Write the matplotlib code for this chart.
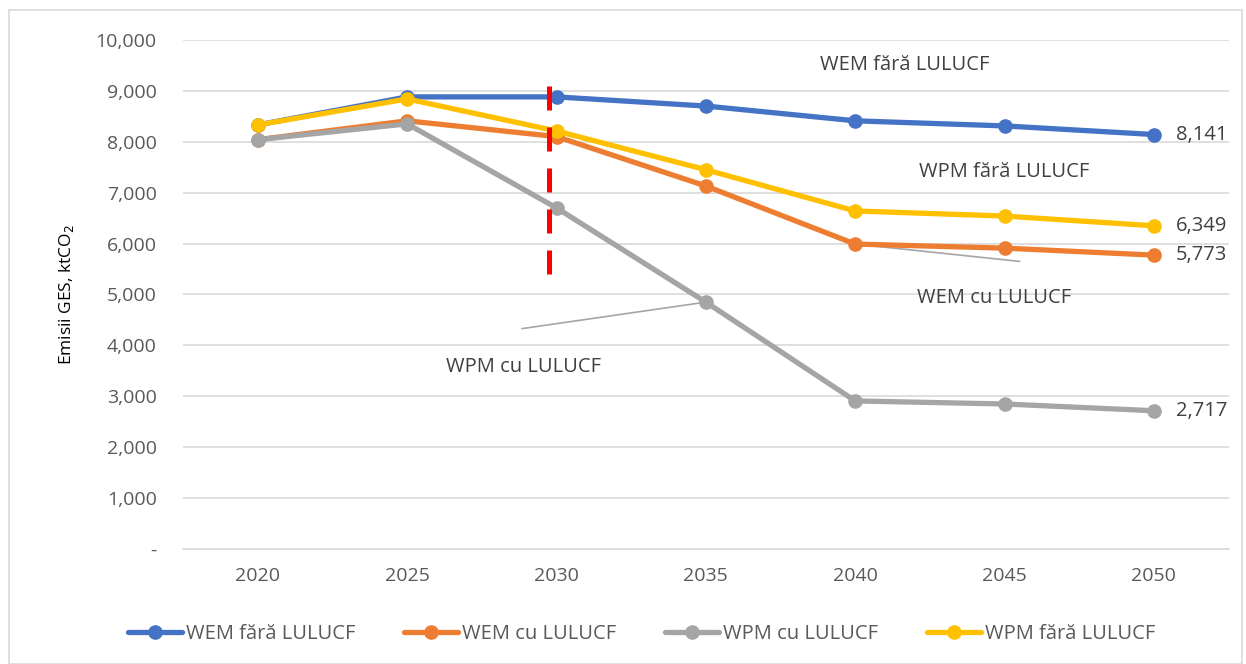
import matplotlib.pyplot as plt
from matplotlib.patches import Rectangle
from matplotlib.ticker import FuncFormatter

# ----------------------------------------------------------------------------
# Data (ktCO2)
# ----------------------------------------------------------------------------
years = ["2020", "2025", "2030", "2035", "2040", "2045", "2050"]
wem_fara = [8330, 8880, 8880, 8700, 8410, 8310, 8141]
wem_cu = [8040, 8410, 8100, 7130, 5990, 5910, 5773]
wpm_cu = [8040, 8350, 6700, 4850, 2910, 2850, 2717]
wpm_fara = [8330, 8840, 8210, 7450, 6640, 6540, 6349]

series_names = ["WEM fără LULUCF", "WEM cu LULUCF", "WPM cu LULUCF", "WPM fără LULUCF"]
series_values = [wem_fara, wem_cu, wpm_cu, wpm_fara]
end_labels = {"WEM fără LULUCF": "8,141", "WPM fără LULUCF": "6,349",
              "WEM cu LULUCF": "5,773", "WPM cu LULUCF": "2,717"}

# policy marker (dashed red line just before 2030)
policy_x = 1.95
policy_range = (5400, 9180)

# ----------------------------------------------------------------------------
# Style
# ----------------------------------------------------------------------------
COLORS = ["#4472C4", "#ED7D31", "#A5A5A5", "#FFC000"]
COLOR_TEXT = "#595959"
COLOR_GRID = "#D9D9D9"

plt.rcParams.update({
    "font.family": ["Open Sans", "DejaVu Sans"],
    "font.size": 12,
    "text.color": COLOR_TEXT,
    "xtick.color": COLOR_TEXT,
    "ytick.color": COLOR_TEXT,
})

fig = plt.figure(figsize=(12.46, 6.64), dpi=100)
ax = fig.add_axes([0.147, 0.173, 0.839, 0.767])

x = list(range(len(years)))
lines = []
for name, vals, col in zip(series_names, series_values, COLORS):
    ln, = ax.plot(x, vals, color=col, linewidth=3.8, marker="o",
                  markersize=9.5, label=name, zorder=3, solid_capstyle="round")
    lines.append(ln)

ax.plot([policy_x, policy_x], policy_range, color="#FF0000", linewidth=3.6,
        linestyle=(0, (4.8, 3.4)), zorder=5)

# end-of-line value labels
for name, vals in zip(series_names, series_values):
    ax.annotate(end_labels[name], (x[-1], vals[-1]), xytext=(16, 0),
                textcoords="offset points", va="center", ha="left",
                fontsize=14.5, color="#404040", annotation_clip=False)

# series labels inside the plot
lab_kw = dict(ha="center", va="center", fontsize=14.5, color="#404040")
ax.text(4.33, 9500, "WEM fără LULUCF", **lab_kw)
ax.text(5.0, 7400, "WPM fără LULUCF", **lab_kw)
ax.text(4.93, 4930, "WEM cu LULUCF", **lab_kw)
ax.text(1.78, 3580, "WPM cu LULUCF", **lab_kw)
# leader lines
ax.plot([4.0, 5.1], [wem_cu[4], 5650], color="#A5A5A5", linewidth=1.2, zorder=2)
ax.plot([1.77, 3.0], [4330, wpm_cu[3]], color="#A5A5A5", linewidth=1.2, zorder=2)

ax.set_xlim(-0.5, len(years) - 0.5)
ax.set_ylim(0, 10000)
ax.set_yticks(range(0, 10001, 1000))
ax.yaxis.set_major_formatter(FuncFormatter(lambda v, _: "-" if v == 0 else f"{int(v):,}"))
ax.set_xticks(x)
ax.set_xticklabels(years)
ax.tick_params(axis="both", length=0, labelsize=14)
ax.tick_params(axis="y", pad=19)
ax.tick_params(axis="x", pad=13)
ax.grid(axis="y", color=COLOR_GRID, linewidth=1.2)
ax.set_axisbelow(True)
for side in ["top", "right", "left"]:
    ax.spines[side].set_visible(False)
ax.spines["bottom"].set_color(COLOR_GRID)
ax.spines["bottom"].set_linewidth(1.2)

ax.set_ylabel("Emisii GES, ktCO$_2$", fontsize=12.5, labelpad=14)

fig.legend(handles=lines, labels=series_names, loc="center", ncol=4,
           bbox_to_anchor=(0.515, 0.045), frameon=False, fontsize=14.5,
           handlelength=2.7, columnspacing=2.4, handletextpad=0.2)

# figure border
fig.patches.append(Rectangle((0.007, 0.0), 0.99, 0.985, transform=fig.transFigure,
                             fill=False, edgecolor="#D9D9D9", linewidth=1.2))

fig.savefig("out.png", dpi=100)
